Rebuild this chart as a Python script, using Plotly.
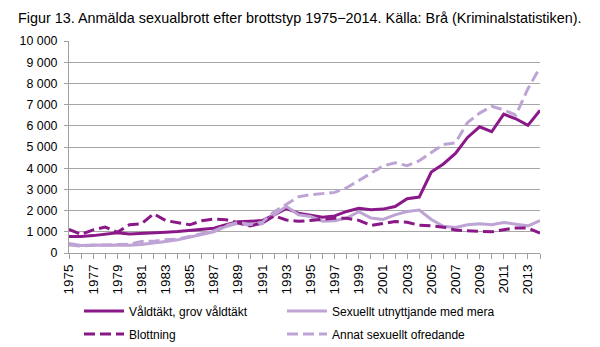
import plotly.graph_objects as go

years = list(range(1975, 2015))

valdtakt = [780, 780, 820, 880, 950, 900, 920, 930, 980, 1010,
            1060, 1090, 1170, 1330, 1480, 1500, 1530, 1800, 2100, 1880,
            1800, 1690, 1750, 1960, 2110, 2040, 2070, 2190, 2560, 2640,
            3820, 4200, 4700, 5450, 5950, 5720, 6550, 6330, 6020, 6730]

utnyttjande = [450, 350, 380, 360, 380, 360, 400, 460, 540, 620,
               740, 850, 1000, 1250, 1400, 1300, 1380, 1800, 2200, 1800,
               1720, 1500, 1520, 1650, 1950, 1650, 1580, 1800, 1960, 2030,
               1580, 1260, 1200, 1330, 1380, 1330, 1440, 1360, 1280, 1530]

blottning = [1120, 880, 1090, 1220, 980, 1330, 1380, 1850, 1530, 1420,
             1330, 1520, 1600, 1570, 1440, 1280, 1420, 1750, 1560, 1500,
             1530, 1600, 1640, 1640, 1540, 1300, 1400, 1480, 1450, 1310,
             1280, 1220, 1080, 1050, 1000, 1000, 1100, 1180, 1180, 940]

annat = [380, 330, 360, 380, 400, 420, 540, 560, 620, 650,
         780, 920, 1040, 1300, 1440, 1350, 1450, 1950, 2300, 2650,
         2750, 2800, 2860, 3080, 3420, 3780, 4100, 4260, 4120, 4350,
         4750, 5120, 5200, 6150, 6600, 6920, 6750, 6500, 7750, 8750]

names = ["Våldtäkt, grov våldtäkt", "Sexuellt utnyttjande med mera",
         "Blottning", "Annat sexuellt ofredande"]
title_text = "Figur 13. Anmälda sexualbrott efter brottstyp 1975−2014. Källa: Brå (Kriminalstatistiken)."

DARK = "#8A1888"
LIGHT = "#BEA4D4"
FONT = "Liberation Sans, Arial, sans-serif"

fig = go.Figure()
series = [
    (valdtakt, names[0], DARK, "solid", "legend"),
    (utnyttjande, names[1], LIGHT, "solid", "legend2"),
    (blottning, names[2], DARK, "11px,5px", "legend3"),
    (annat, names[3], LIGHT, "11px,5px", "legend4"),
]
for vals, nm, col, dash, lg in series:
    fig.add_trace(go.Scatter(
        x=years, y=vals, name=nm, mode="lines",
        line=dict(color=col, width=3, dash=dash),
        legend=lg,
    ))

legend_common = dict(
    orientation="h", xanchor="left", yanchor="middle",
    xref="container", yref="container",
    font=dict(family=FONT, size=12, color="black"),
    bgcolor="rgba(0,0,0,0)", itemwidth=40,
)
col1_x, col2_x = 79 / 600, 282 / 600
row1_y, row2_y = 1 - 311 / 347, 1 - 334 / 347

fig.update_layout(
    width=600, height=347,
    margin=dict(l=69, r=60, t=41, b=94),
    paper_bgcolor="white", plot_bgcolor="white",
    separators=", ",
    font=dict(family=FONT, size=12, color="black"),
    title=dict(text=title_text, x=18/600, xanchor="left", y=1 - 18/347, yanchor="middle",
               font=dict(family=FONT, size=14.4, color="black")),
    xaxis=dict(
        range=[1975, 2014], tick0=1975, dtick=2, tickangle=-90,
        showgrid=False, zeroline=False,
        showline=True, linecolor="#A0A0A0", linewidth=1,
        ticks="outside", ticklen=5, tickcolor="#A0A0A0",
        minor=dict(dtick=1, tick0=1975, ticks="outside", ticklen=5, tickcolor="#A0A0A0"),
        tickfont=dict(family=FONT, size=13.5, color="black"),
        automargin=False,
    ),
    yaxis=dict(
        range=[0, 10000], dtick=1000, tickformat=",d",
        showgrid=True, gridcolor="#A6A6A6", gridwidth=1,
        zeroline=False,
        showline=True, linecolor="#A0A0A0", linewidth=1,
        ticks="outside", ticklen=4, tickcolor="#A0A0A0",
        ticklabelstandoff=4,
        tickfont=dict(family=FONT, size=12.4, color="black"),
        automargin=False,
    ),
    legend=dict(legend_common, x=col1_x, y=row1_y),
    legend2=dict(legend_common, x=col2_x, y=row1_y),
    legend3=dict(legend_common, x=col1_x, y=row2_y),
    legend4=dict(legend_common, x=col2_x, y=row2_y),
    showlegend=True,
)

fig.write_html("out.html")
